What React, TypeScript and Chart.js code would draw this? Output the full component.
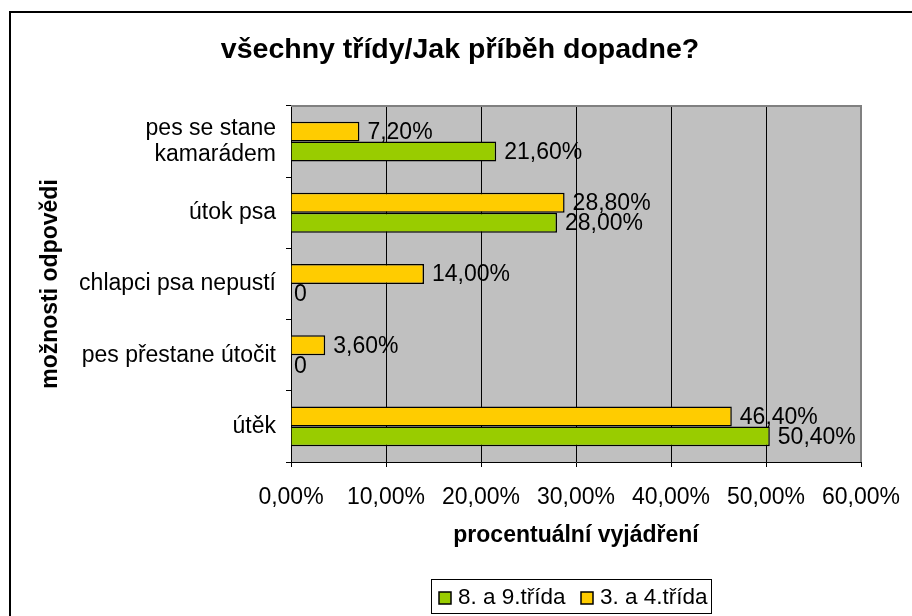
import React, { useEffect, useRef } from "react";
import { Chart, registerables } from "chart.js";

Chart.register(...registerables);

const chartTitle = "všechny třídy/Jak příběh dopadne?";
const xAxisTitle = "procentuální vyjádření";
const yAxisTitle = "možnosti odpovědi";
const categories: (string | string[])[] = [
  ["pes se stane", "kamarádem"],
  "útok psa",
  "chlapci psa nepustí",
  "pes přestane útočit",
  "útěk",
];
const seriesNames = ["8. a 9.třída", "3. a 4.třída"];
const values89 = [21.6, 28.0, 0, 0, 50.4];
const values34 = [7.2, 28.8, 14.0, 3.6, 46.4];
const xMin = 0;
const xMax = 60;
const xStep = 10;

const GREEN = "#99CC00";
const YELLOW = "#FFCC00";
const FONT = "'Liberation Sans', Arial, Helvetica, sans-serif";
const FS = 23;

const fmt = (v: number) => (v === 0 ? "0" : v.toFixed(2).replace(".", ",") + "%");

const plotPlugin = {
  id: "plotDecor",
  beforeDraw(chart: any) {
    const { ctx, chartArea: a } = chart;
    ctx.save();
    ctx.fillStyle = "#C0C0C0";
    ctx.fillRect(a.left, a.top, a.right - a.left, a.bottom - a.top);
    ctx.restore();
  },
  afterDatasetsDraw(chart: any) {
    const { ctx } = chart;
    ctx.save();
    ctx.font = `${FS}px ${FONT}`;
    ctx.fillStyle = "#000";
    ctx.textBaseline = "middle";
    ctx.textAlign = "left";
    chart.data.datasets.forEach((ds: any, di: number) => {
      const meta = chart.getDatasetMeta(di);
      meta.data.forEach((el: any, i: number) => {
        const v = ds.data[i];
        const off = v === 0 ? 3 : 8;
        ctx.fillText(fmt(v), el.x + off, el.y + 1);
      });
    });
    ctx.restore();
  },
  afterDraw(chart: any) {
    const { ctx, chartArea: a } = chart;
    ctx.save();
    // chart title
    ctx.fillStyle = "#000";
    ctx.font = `bold 28.5px ${FONT}`;
    ctx.textAlign = "center";
    ctx.textBaseline = "middle";
    ctx.fillText(chartTitle, 460, 50);
    // plot area grey border (top & right)
    ctx.strokeStyle = "#808080";
    ctx.lineWidth = 2;
    ctx.beginPath();
    ctx.moveTo(a.left, a.top);
    ctx.lineTo(a.right, a.top);
    ctx.lineTo(a.right, a.bottom);
    ctx.stroke();
    // outer chart frame
    ctx.strokeStyle = "#000";
    ctx.lineWidth = 2;
    ctx.beginPath();
    ctx.moveTo(10, 620);
    ctx.lineTo(10, 12);
    ctx.lineTo(920, 12);
    ctx.stroke();
    // legend
    const lx = 431.5, ly = 579.5, lw = 280, lh = 34;
    ctx.strokeStyle = "#000";
    ctx.lineWidth = 1;
    ctx.strokeRect(lx, ly, lw, lh);
    const items = [
      { name: seriesNames[0], color: GREEN, x: 439 },
      { name: seriesNames[1], color: YELLOW, x: 581 },
    ];
    ctx.font = `22.5px ${FONT}`;
    ctx.textBaseline = "middle";
    ctx.textAlign = "left";
    items.forEach((it) => {
      ctx.fillStyle = it.color;
      ctx.fillRect(it.x, 592, 12, 12);
      ctx.strokeStyle = "#000";
      ctx.lineWidth = 1.5;
      ctx.strokeRect(it.x, 592, 12, 12);
      ctx.fillStyle = "#000";
      ctx.fillText(it.name, it.x + 19, 598);
    });
    ctx.restore();
  },
};

export default function App() {
  const ref = useRef<HTMLCanvasElement | null>(null);
  useEffect(() => {
    if (!ref.current) return;
    const chart = new Chart(ref.current, {
      type: "bar",
      data: {
        labels: categories as any,
        datasets: [
          {
            label: seriesNames[1],
            data: values34,
            backgroundColor: YELLOW,
            borderColor: "#000",
            borderWidth: 1.5,
            categoryPercentage: 0.56,
            barPercentage: 1,
          },
          {
            label: seriesNames[0],
            data: values89,
            backgroundColor: GREEN,
            borderColor: "#000",
            borderWidth: 1.5,
            categoryPercentage: 0.56,
            barPercentage: 1,
          },
        ],
      },
      options: {
        indexAxis: "y",
        responsive: false,
        animation: false,
        layout: { padding: { left: 0, right: 51, top: 106, bottom: 0 } },
        plugins: {
          legend: { display: false },
          tooltip: { enabled: false },
          title: { display: false },
        },
        scales: {
          x: {
            type: "linear",
            min: xMin,
            max: xMax,
            ticks: {
              stepSize: xStep,
              color: "#000",
              font: { family: FONT, size: FS },
              padding: 17,
              callback: (v: any) => Number(v).toFixed(2).replace(".", ",") + "%",
            },
            grid: { color: "#000", lineWidth: 1, tickLength: 5, drawTicks: true },
            border: { display: true, color: "#000", width: 1 },
            title: {
              display: true,
              text: xAxisTitle,
              color: "#000",
              font: { family: FONT, size: FS, weight: "bold" },
              padding: { top: 0, bottom: 67 },
            },
            afterFit: (s: any) => {
              s.height = 154;
              s.paddingLeft = 0;
              s.paddingRight = 0;
            },
          },
          y: {
            type: "category",
            offset: true,
            ticks: {
              color: "#000",
              font: { family: FONT, size: FS, lineHeight: 1.15 },
              padding: 10,
            },
            grid: {
              display: true,
              offset: true,
              drawOnChartArea: false,
              color: "#000",
              tickLength: 5,
            },
            border: { display: true, color: "#000", width: 1 },
            title: {
              display: true,
              text: yAxisTitle,
              color: "#000",
              font: { family: FONT, size: FS, weight: "bold" },
              padding: { top: 37, bottom: 0 },
            },
            afterFit: (s: any) => {
              s.width = 291;
              s.paddingTop = 0;
              s.paddingBottom = 0;
            },
          },
        },
      } as any,
      plugins: [plotPlugin],
    });
    return () => chart.destroy();
  }, []);
  return (
    <div style={{ position: "absolute", left: 0, top: 0, width: 912, height: 616, background: "#fff" }}>
      <canvas ref={ref} width={912} height={616} style={{ width: 912, height: 616, display: "block" }} />
    </div>
  );
}
